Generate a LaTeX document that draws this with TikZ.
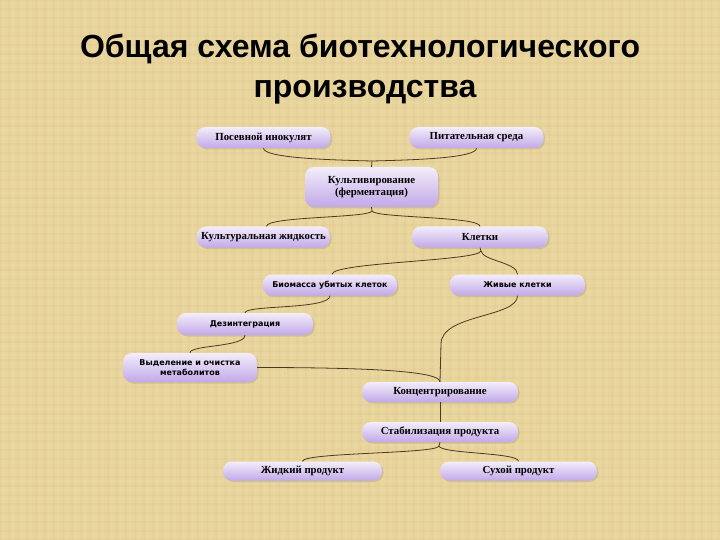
\documentclass[tikz,border=0pt]{standalone}
\usepackage{fontspec}
\setmainfont{Liberation Serif}
\setsansfont{DejaVu Sans}
\newfontfamily\titlefont{Liberation Sans}
\usetikzlibrary{shadows}
\definecolor{bg}{HTML}{E8D49C}
\definecolor{bgdark}{HTML}{C9B070}
\definecolor{bglight}{HTML}{F4E6B6}
\definecolor{boxtop}{HTML}{F3EEFA}
\definecolor{boxbot}{HTML}{C2A8E8}
\definecolor{wirec}{HTML}{4A3A22}
\begin{document}
\begin{tikzpicture}[x=1pt,y=-1pt,
  box/.style={rectangle, rounded corners=9pt, top color=boxtop, bottom color=boxbot,
    draw=none, drop shadow={opacity=0.25,shadow xshift=1.5pt,shadow yshift=-1.5pt},
    inner sep=1pt, minimum width=134, font=\bfseries\fontsize{10.8}{12.5}\selectfont, align=center},
  sbox/.style={box, font=\sffamily\bfseries\fontsize{8}{10}\selectfont},
  wire/.style={draw=wirec, line width=0.8pt},
  ttl/.style={anchor=base, font=\titlefont\bfseries\fontsize{32}{36}\selectfont, text=black}]
\useasboundingbox (0,0) rectangle (720,540);
\begin{scope}
\clip (0,0) rectangle (720,540);
\fill[bg] (0,0) rectangle (720,540);
\foreach \i in {0,9,...,720} {
  \draw[bgdark, opacity=0.08, line width=1.2pt] (\i,0) -- (\i,540);
  \draw[bglight, opacity=0.18, line width=1.2pt] (\i+4,0) -- (\i+4,540);
}
\foreach \j in {0,9,...,540} {
  \draw[bgdark, opacity=0.07, line width=1.2pt] (0,\j) -- (720,\j);
  \draw[bglight, opacity=0.15, line width=1.2pt] (0,\j+4) -- (720,\j+4);
}
\end{scope}

\node[ttl] (t1) at (360,58) {Общая схема биотехнологического};
\node[ttl] (t2) at (365,98) {производства};

\node[box, minimum height=21] (n1) at (263.5,137.5) {Посевной инокулят};
\node[box, minimum height=21] (n2) at (476.5,137.5) {Питательная среда};
\node[box, minimum width=133, minimum height=40] (n3) at (371.5,187) {Культивирование\\(ферментация)};
\node[box, minimum width=133, minimum height=21] (n4) at (263.5,237) {Культуральная жидкость};
\node[box, minimum width=136, minimum height=21] (n5) at (480,237) {Клетки};
\node[sbox, minimum height=21] (n6) at (330,285) {Биомасса убитых клеток};
\node[sbox, minimum width=135, minimum height=21] (n7) at (517.5,285) {Живые клетки};
\node[sbox, minimum width=136, minimum height=22] (n8) at (245,324) {Дезинтеграция};
\node[sbox, minimum height=29] (n9) at (190,367.5) {Выделение и очистка\\метаболитов};
\node[box, minimum width=156, minimum height=20] (n10) at (440,392) {Концентрирование};
\node[box, minimum width=156, minimum height=20] (n11) at (440,432) {Стабилизация продукта};
\node[box, minimum width=159, minimum height=19] (n12) at (302.5,471) {Жидкий продукт};
\node[box, minimum width=157, minimum height=19] (n13) at (518.5,471) {Сухой продукт};

\coordinate (j1) at (372,161);
\coordinate (j2) at (372,211);
\coordinate (j3) at (481,251);
\coordinate (j4) at (439,446);
\coordinate (k) at (441,344);

% inoculum + medium -> cultivation
\draw[wire] (n1.south) .. controls +(0,10) and +(-40,-1) .. (j1);
\draw[wire] (n2.south) .. controls +(0,10) and +(40,-1) .. (j1);
\draw[wire] (j1) -- (n3.north);
% cultivation -> liquid, cells
\draw[wire] (n3.south) -- (j2);
\draw[wire] (j2) .. controls +(-2,7) and +(0,-10) .. ([xshift=3]n4.north);
\draw[wire] (j2) .. controls +(2,7) and +(0,-10) .. (n5.north);
% cells -> killed biomass, live cells
\draw[wire] (n5.south) -- (j3);
\draw[wire] (j3) .. controls +(-2,10) and +(0,-12) .. ([xshift=2]n6.north);
\draw[wire] (j3) .. controls +(2,10) and +(0,-12) .. (n7.north);
% biomass -> disintegration -> isolation
\draw[wire] (n6.south) .. controls +(0,14) and +(0,-8) .. (n8.north);
\draw[wire] (n8.south) .. controls +(0,12) and +(0,-8) .. (n9.north);
% live cells -> concentration
\draw[wire] (n7.south) .. controls +(0,22) and +(0,-30) .. (k);
\draw[wire] (k) -- (n10.north);
% isolation -> concentration
\draw[wire] (n9.east) .. controls +(120,0) and +(0,-10) .. (n10.north);
% concentration -> stabilization
\draw[wire] (n10.south) -- (n11.north);
% stabilization -> products
\draw[wire] (n11.south) -- (j4);
\draw[wire] (j4) .. controls +(-2,8) and +(0,-9) .. (n12.north);
\draw[wire] (j4) .. controls +(2,8) and +(0,-9) .. (n13.north);
\end{tikzpicture}
\end{document}
